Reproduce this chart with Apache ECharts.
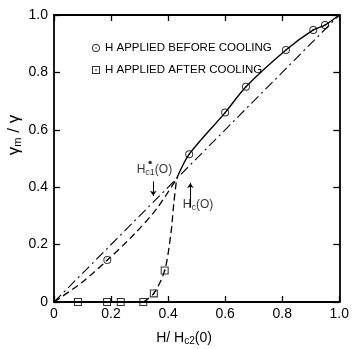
<!DOCTYPE html>
<html>
<head>
<meta charset="utf-8">
<script src="https://cdn.jsdelivr.net/npm/echarts@6/dist/echarts.min.js"></script>
<style>
  html, body { margin: 0; padding: 0; background: #fff; }
  #chart { width: 352px; height: 349px; }
</style>
</head>
<body>
<div id="chart"></div>
<script>
// tick values for both axes
const ticks = [0, 0.2, 0.4, 0.6, 0.8, 1.0];

// measured points, H applied before cooling (circles)
const beforeX = [0.187, 0.474, 0.60, 0.673, 0.813, 0.909, 0.95];
const beforeY = [0.146, 0.515, 0.66, 0.75, 0.878, 0.948, 0.965];

// measured points, H applied after cooling (squares)
const afterX = [0.084, 0.186, 0.234, 0.313, 0.35, 0.388];
const afterY = [0, 0, 0, 0, 0.03, 0.11];

// solid curve through the "before" points above the junction
const solidX = [0.43, 0.474, 0.60, 0.673, 0.813, 0.909, 0.95, 1.0];
const solidY = [0.43, 0.515, 0.66, 0.75, 0.878, 0.948, 0.965, 1.0];

// dashed branch below the junction (before cooling)
const lowX = [0, 0.1, 0.187, 0.28, 0.36, 0.43];
const lowY = [0, 0.07, 0.146, 0.235, 0.325, 0.43];

// steep dashed branch (after cooling)
const steepX = [0.313, 0.35, 0.388, 0.41, 0.42, 0.43];
const steepY = [0, 0.03, 0.11, 0.24, 0.345, 0.43];

// dash-dot reference line
const diagX = [0, 1];
const diagY = [0, 1];

const zip = (xs, ys) => xs.map((x, i) => [x, ys[i]]);

const circleSym = 'path://M5,0A5,5,0,1,1,5,10A5,5,0,1,1,5,0ZM5,1.2A3.8,3.8,0,1,0,5,8.8A3.8,3.8,0,1,0,5,1.2ZM5,4A1,1,0,1,1,5,6A1,1,0,1,1,5,4Z';
const squareSym = 'path://M0,0H10V10H0ZM1.3,1.3V8.7H8.7V1.3ZM4,4H6V6H4Z';

const font = 'Liberation Sans';
const fmt = (v) => (v === 0 ? '0' : v.toFixed(1));

const chart = echarts.init(document.getElementById('chart'));

const baseAxis = {
  type: 'value',
  min: 0,
  max: 1,
  interval: 0.2,
  axisLine: { show: true, onZero: false, lineStyle: { color: '#000', width: 1.8 } },
  axisTick: { show: true, inside: true, length: 6, lineStyle: { color: '#000', width: 1.3 } },
  splitLine: { show: false },
};

chart.setOption({
  animation: false,
  backgroundColor: '#fff',
  grid: { left: 54, right: 6, top: 15, bottom: 47 },
  xAxis: [
    Object.assign({}, baseAxis, {
      position: 'bottom',
      axisLabel: { margin: 5, color: '#000', fontFamily: font, fontSize: 14, formatter: fmt },
    }),
    Object.assign({}, baseAxis, { position: 'top', axisLabel: { show: false } }),
  ],
  yAxis: [
    Object.assign({}, baseAxis, {
      position: 'left',
      axisLabel: { margin: 6, color: '#000', fontFamily: font, fontSize: 14, formatter: fmt },
    }),
    Object.assign({}, baseAxis, { position: 'right', axisLabel: { show: false } }),
  ],
  legend: {
    left: 87,
    top: 37,
    orient: 'vertical',
    itemWidth: 8,
    itemHeight: 8,
    itemGap: 10,
    textStyle: { fontFamily: font, fontSize: 11.5, color: '#000' },
    data: [
      { name: 'H APPLIED BEFORE COOLING', icon: circleSym },
      { name: 'H APPLIED AFTER COOLING', icon: squareSym },
    ],
  },
  graphic: [
    {
      type: 'text',
      x: 14,
      y: 135,
      rotation: Math.PI / 2,
      style: {
        text: 'γ{sub|m} / γ',
        fill: '#000',
        font: '17px ' + font,
        align: 'center',
        verticalAlign: 'middle',
        rich: { sub: { fontSize: 11, fontFamily: font, padding: [8, 0, 0, 0] } },
      },
    },
    {
      type: 'text',
      x: 184,
      y: 338,
      style: {
        text: 'H/ H{sub|c2}(0)',
        fill: '#000',
        font: '14px ' + font,
        align: 'center',
        verticalAlign: 'middle',
        rich: { sub: { fontSize: 10, fontFamily: font, padding: [7, 0, 0, 0] } },
      },
    },
  ],
  series: [
    {
      name: 'diag',
      type: 'line',
      data: zip(diagX, diagY),
      showSymbol: false,
      lineStyle: { color: '#000', width: 1.1, type: [10, 4, 2, 4] },
      z: 2,
    },
    {
      name: 'solid',
      type: 'line',
      data: zip(solidX, solidY),
      smooth: 0.3,
      showSymbol: false,
      lineStyle: { color: '#000', width: 1.4 },
      z: 2,
    },
    {
      name: 'low',
      type: 'line',
      data: zip(lowX, lowY),
      smooth: 0.3,
      showSymbol: false,
      lineStyle: { color: '#000', width: 1.3, type: [7, 4] },
      z: 2,
    },
    {
      name: 'steep',
      type: 'line',
      data: zip(steepX, steepY),
      smooth: 0.3,
      showSymbol: false,
      lineStyle: { color: '#000', width: 1.3, type: [7, 4] },
      z: 2,
    },
    {
      name: 'H APPLIED BEFORE COOLING',
      type: 'scatter',
      data: zip(beforeX, beforeY),
      symbol: circleSym,
      symbolSize: 8,
      itemStyle: { color: '#000' },
      z: 4,
    },
    {
      name: 'H APPLIED AFTER COOLING',
      type: 'scatter',
      data: zip(afterX, afterY),
      symbol: squareSym,
      symbolSize: 8,
      itemStyle: { color: '#000' },
      z: 4,
    },
    {
      name: 'arrows',
      type: 'lines',
      coordinateSystem: 'cartesian2d',
      symbol: ['none', 'arrow'],
      symbolSize: 5,
      lineStyle: { color: '#000', width: 1, opacity: 1 },
      data: [
        { coords: [[0.348, 0.42], [0.348, 0.37]] },
        { coords: [[0.478, 0.33], [0.478, 0.415]] },
      ],
      z: 3,
    },
    {
      name: 'notes',
      type: 'scatter',
      symbolSize: 0,
      silent: true,
      label: {
        show: true,
        position: 'inside',
        color: '#000',
        fontFamily: font,
        fontSize: 12,
        formatter: (p) => p.name,
        rich: { sub: { fontSize: 9, fontFamily: font, padding: [6, 0, 0, 0] } },
      },
      data: [
        { name: 'H{sub|c1}(O)', value: [0.352, 0.461] },
        { name: 'H{sub|c}(O)', value: [0.505, 0.34] },
      ],
      z: 3,
    },
    {
      name: 'star',
      type: 'scatter',
      symbol: 'circle',
      symbolSize: 3.5,
      itemStyle: { color: '#000' },
      data: [[0.337, 0.486]],
      z: 3,
    },
  ],
});
</script>
</body>
</html>
